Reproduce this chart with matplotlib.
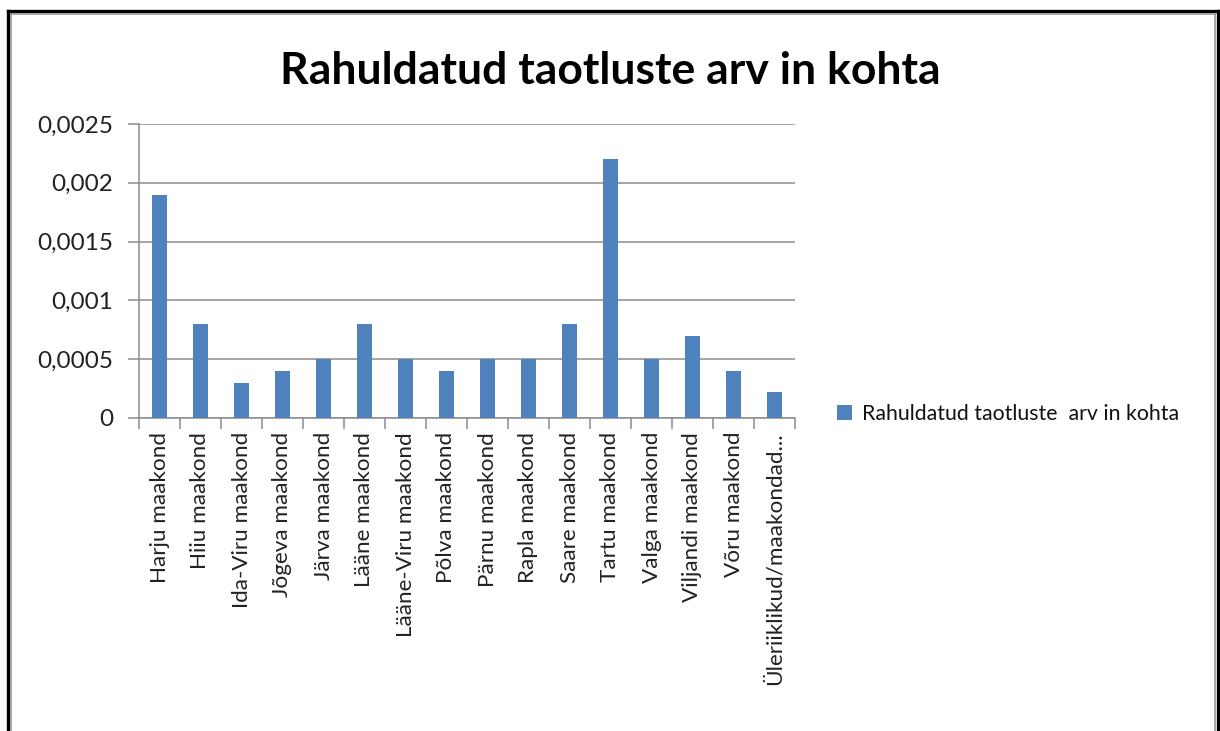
import matplotlib.pyplot as plt
from matplotlib.lines import Line2D
from matplotlib.ticker import MultipleLocator, FuncFormatter

# Data
counties = ["Harju maakond", "Hiiu maakond", "Ida-Viru maakond", "Jõgeva maakond",
            "Järva maakond", "Lääne maakond", "Lääne-Viru maakond", "Põlva maakond",
            "Pärnu maakond", "Rapla maakond", "Saare maakond", "Tartu maakond",
            "Valga maakond", "Viljandi maakond", "Võru maakond",
            "Üleriiklikud/maakondad..."]
values = [0.0019, 0.0008, 0.0003, 0.0004, 0.0005, 0.0008, 0.0005, 0.0004,
          0.0005, 0.0005, 0.0008, 0.0022, 0.0005, 0.0007, 0.0004, 0.00022]
series_name = "Rahuldatud taotluste  arv in kohta"
title = "Rahuldatud taotluste arv in kohta"

BAR = "#4F81BD"
GRID = "#8C8C8C"

plt.rcParams['font.family'] = ['Lato', 'DejaVu Sans']

fig = plt.figure(figsize=(12.2, 7.31), dpi=100)
W, H = 1220, 731

# Frame around the chart (outer black, inner gray)
def fline(x0, y0, x1, y1, **kw):
    fig.add_artist(Line2D([x0 / W, x1 / W], [1 - y0 / H, 1 - y1 / H],
                          transform=fig.transFigure, **kw))

fline(7.5, 11, 7.5, 731, color="black", lw=2.4)
fline(7.5, 11, 1217.5, 11, color="black", lw=2.4)
fline(1217.5, 11, 1217.5, 731, color="black", lw=2.4)
fline(11, 13.5, 11, 731, color="#999999", lw=1.2)
fline(11, 13.5, 1214.5, 13.5, color="#999999", lw=1.2)
fline(1214.5, 13.5, 1214.5, 731, color="#999999", lw=1.2)

ax = fig.add_axes([139 / W, 1 - 418 / H, (795 - 139) / W, (418 - 124) / H])

x = list(range(len(counties)))
ax.bar(x, values, width=0.39, color=BAR, label=series_name, zorder=3)

ax.set_xlim(-0.5, len(counties) - 0.5)
ax.set_ylim(0, 0.0025)
ax.yaxis.set_major_locator(MultipleLocator(0.0005))
ax.yaxis.set_major_formatter(FuncFormatter(
    lambda v, p: "0" if v == 0 else f"{v:.4f}".rstrip("0").replace(".", ",")))
ax.grid(axis="y", color=GRID, lw=1.1, zorder=0)

ax.set_xticks(x)
ax.set_xticklabels(counties, rotation=90, fontsize=16.2, color="#222222")
ax.set_xticks([i - 0.5 for i in range(len(counties) + 1)], minor=True)
ax.tick_params(axis="x", which="major", length=0, pad=10)
ax.tick_params(axis="x", which="minor", length=8, color=GRID, width=1.1)
ax.tick_params(axis="y", length=8, color=GRID, width=1.1, labelsize=17.5,
               labelcolor="#222222", pad=10.5)

for s in ["top", "right"]:
    ax.spines[s].set_visible(False)
for s in ["left", "bottom"]:
    ax.spines[s].set_color(GRID)
    ax.spines[s].set_linewidth(1.1)

fig.text(0.5, 1 - 71 / H, title, ha="center", va="center",
         fontsize=32, fontweight="bold", color="black")

fig.legend(loc="center left", bbox_to_anchor=(818 / W, 1 - 414 / H),
           frameon=False, fontsize=15.3, handlelength=0.7, handleheight=0.7,
           handletextpad=0.45, labelcolor="#111111")

fig.savefig("out.png", dpi=100)
